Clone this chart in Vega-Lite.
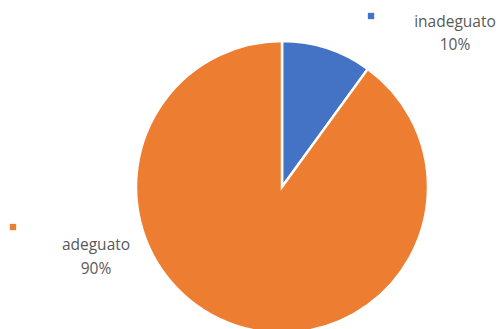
{
  "$schema": "https://vega.github.io/schema/vega-lite/v6.json",
  "autosize": {"type": "none"},
  "width": 438,
  "height": 284,
  "padding": {"left": 63, "top": 45, "right": 0, "bottom": 0},
  "background": "white",
  "view": {"stroke": null},
  "config": {"text": {"font": "Open Sans", "fontSize": 15.5, "color": "#595959"}},
  "data": {"values": [
    {"categoria": "inadeguato", "quota": 0.1, "ordine": 1},
    {"categoria": "adeguato", "quota": 0.9, "ordine": 2}
  ]},
  "layer": [
    {
      "mark": {"type": "arc", "radius": 146, "stroke": "white", "strokeWidth": 2.5},
      "encoding": {
        "theta": {"field": "quota", "type": "quantitative", "stack": true},
        "order": {"field": "ordine", "type": "quantitative"},
        "color": {"field": "categoria", "type": "nominal", "scale": {"domain": ["inadeguato", "adeguato"], "range": ["#4472C4", "#ED7D31"]}, "legend": null}
      }
    },
    {
      "transform": [{"filter": "datum.categoria === 'inadeguato'"}],
      "layer": [
        {"mark": {"type": "text", "xOffset": 173, "yOffset": -165, "baseline": "middle", "align": "center", "fill": "#595959"}, "encoding": {"text": {"field": "categoria"}}},
        {"mark": {"type": "text", "xOffset": 173, "yOffset": -142, "baseline": "middle", "align": "center", "fill": "#595959"}, "encoding": {"text": {"field": "quota", "type": "quantitative", "format": ".0%"}}},
        {"mark": {"type": "square", "size": 40, "filled": true, "opacity": 1, "xOffset": 89, "yOffset": -171}, "encoding": {"color": {"field": "categoria", "type": "nominal", "scale": {"domain": ["inadeguato", "adeguato"], "range": ["#4472C4", "#ED7D31"]}, "legend": null}}}
      ]
    },
    {
      "transform": [{"filter": "datum.categoria === 'adeguato'"}],
      "layer": [
        {"mark": {"type": "text", "xOffset": -186, "yOffset": 58, "baseline": "middle", "align": "center", "fill": "#595959"}, "encoding": {"text": {"field": "categoria"}}},
        {"mark": {"type": "text", "xOffset": -186, "yOffset": 81.5, "baseline": "middle", "align": "center", "fill": "#595959"}, "encoding": {"text": {"field": "quota", "type": "quantitative", "format": ".0%"}}},
        {"mark": {"type": "square", "size": 40, "filled": true, "opacity": 1, "xOffset": -269, "yOffset": 40}, "encoding": {"color": {"field": "categoria", "type": "nominal", "scale": {"domain": ["inadeguato", "adeguato"], "range": ["#4472C4", "#ED7D31"]}, "legend": null}}}
      ]
    }
  ]
}
